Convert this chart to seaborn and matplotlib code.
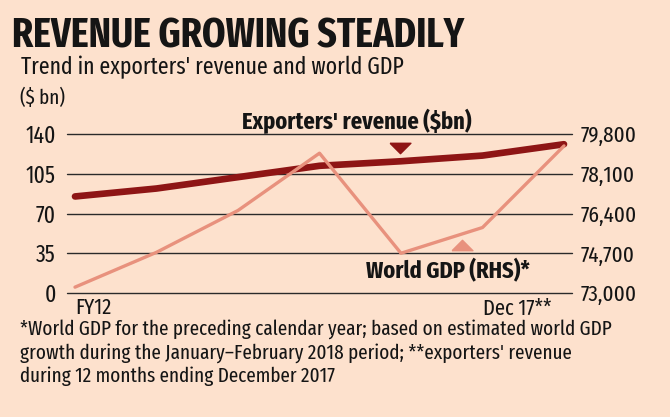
import numpy as np
import pandas as pd
import seaborn as sns
import matplotlib.pyplot as plt

# Data
periods = ["FY12", "", "", "", "", "", "Dec 17**"]
revenue = [85, 92, 102, 112, 116, 121, 131]          # $ bn, left axis
world_gdp = [73250, 74740, 76530, 78980, 74700, 75800, 79290]  # $ bn, right axis
left_ticks = [0, 35, 70, 105, 140]
right_ticks = [73000, 74700, 76400, 78100, 79800]

bg = "#FDE1CD"
dark_red = "#8E1515"
salmon = "#E8917D"
ink = "#151515"
font = ["Fira Sans Extra Condensed", "Fira Sans Condensed", "DejaVu Sans"]

sns.set_theme(style="white")
plt.rcParams["font.family"] = font

df = pd.DataFrame({"x": np.arange(len(periods)), "revenue": revenue, "gdp": world_gdp})

fig = plt.figure(figsize=(6.7, 4.17), dpi=100, facecolor=bg)
ax = fig.add_axes([67 / 670, (417 - 293) / 417, (572 - 67) / 670, (293 - 134) / 417])
ax.set_facecolor("none")

sns.lineplot(data=df, x="x", y="revenue", ax=ax, color=dark_red, linewidth=4.8,
             solid_capstyle="round", zorder=3)
ax.set_ylim(0, 140)
ax.set_xlim(-8 / 81.5, 6 + 8 / 81.5)
ax.set_yticks(left_ticks)
ax.set_yticklabels([str(t) for t in left_ticks], fontsize=17, color=ink)
for t in left_ticks:
    ax.axhline(t, color="#2a2a2a", linewidth=1, zorder=1, clip_on=False)
ax.set_xticks([])
ax.set_xlabel("")
ax.set_ylabel("")
ax.tick_params(axis="y", length=0, pad=8)
for s in ax.spines.values():
    s.set_visible(False)

ax2 = ax.twinx()
sns.lineplot(data=df, x="x", y="gdp", ax=ax2, color=salmon, linewidth=2.4, zorder=4)
ax2.set_ylim(73000, 79800)
ax2.set_yticks(right_ticks)
ax2.set_yticklabels([f"{t:,}" for t in right_ticks], fontsize=16.5, color=ink)
ax2.tick_params(axis="y", length=0, pad=6)
ax2.set_ylabel("")
for s in ax2.spines.values():
    s.set_visible(False)

# x labels
ax.text(0, -4, periods[0], ha="left", va="top", fontsize=16, color=ink)
ax.text(5.85, -4, periods[6], ha="right", va="top", fontsize=16, color=ink)

# series labels with markers
tri_down = [(-1, 0.5), (1, 0.5), (0, -0.5), (-1, 0.5)]
tri_up = [(-1, -0.5), (1, -0.5), (0, 0.5), (-1, -0.5)]
ax.text(3.46, 151, "Exporters' revenue ($bn)", ha="center", va="center",
        fontsize=17.5, fontweight="bold", color=ink)
ax.plot([3.99], [128], marker=tri_down, markersize=15, color=dark_red,
        zorder=5, clip_on=False)
ax.text(4.58, 19, "World GDP (RHS)*", ha="center", va="center",
        fontsize=17.5, fontweight="bold", color=ink)
ax.plot([4.75], [42], marker=tri_up, markersize=15, color=salmon, zorder=5)

# titles and notes
fig.text(12 / 670, 1 - 47 / 417, "REVENUE GROWING STEADILY", fontsize=29.5,
         fontweight="bold", color=ink, ha="left", va="baseline")
fig.text(21 / 670, 1 - 74 / 417, "Trend in exporters' revenue and world GDP",
         fontsize=17, color=ink, ha="left", va="baseline")
fig.text(20 / 670, 1 - 104 / 417, "($ bn)", fontsize=15, color=ink,
         ha="left", va="baseline")
fig.text(20 / 670, 1 - 319 / 417,
         "*World GDP for the preceding calendar year; based on estimated world GDP\n"
         "growth during the January\u2013February 2018 period; **exporters' revenue\n"
         "during 12 months ending December 2017",
         fontsize=15, color=ink, ha="left", va="top", linespacing=1.25)

fig.savefig("out.png", dpi=100, facecolor=bg)
